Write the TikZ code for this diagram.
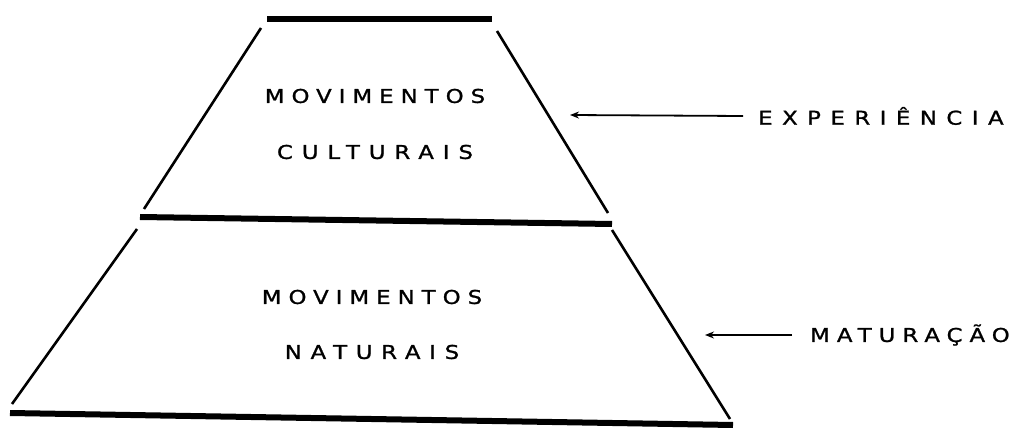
\documentclass[tikz,border=0pt]{standalone}
\usepackage{fontspec}
\newfontfamily\lett[LetterSpace=37,FakeStretch=1.2,FakeBold=1.2]{DejaVu Sans}
\usetikzlibrary{arrows.meta}
\begin{document}
\begin{tikzpicture}[x=1pt,y=-1pt,
  side/.style={line width=2.6pt},
  bar/.style={line width=6pt},
  lbl/.style={font=\lett\fontsize{19}{22}\selectfont, inner sep=0pt},
  wide/.style={font=\lett\fontsize{19}{22}\selectfont\addfontfeatures{LetterSpace=#1}},
  arr/.style={line width=1.8pt,-{Stealth[length=9pt,width=7pt]}}]
\useasboundingbox (0,0) rectangle (1014,430);
\draw[bar] (267,19) -- (492,19);
\draw[side] (261,28) -- (144,209);
\draw[side] (497,31) -- (608,213);
\draw[bar] (140,217) -- (612,224);
\draw[side] (137,229) -- (12,404);
\draw[side] (612,230) -- (730,419);
\draw[bar] (10,413) -- (733,425);
\node[lbl] (mc) at (375,96) {MOVIMENTOS};
\node[lbl,wide=47] (cu) at (375,152) {CULTURAIS};
\node[lbl] (mn) at (372,297) {MOVIMENTOS};
\node[lbl,wide=46] (na) at (372,352) {NATURAIS};
\node[lbl,wide=50,anchor=west] (ex) at (758,116) {EXPERIÊNCIA};
\node[lbl,anchor=west] (ma) at (810,335) {MATURAÇÃO};
\coordinate (ea) at (570,115);
\coordinate (ma2) at (705,335);
\draw[arr] (ex.west) ++(-15,0) -- (ea);
\draw[arr] (ma.west) ++(-18,0) -- (ma2);
\end{tikzpicture}
\end{document}
